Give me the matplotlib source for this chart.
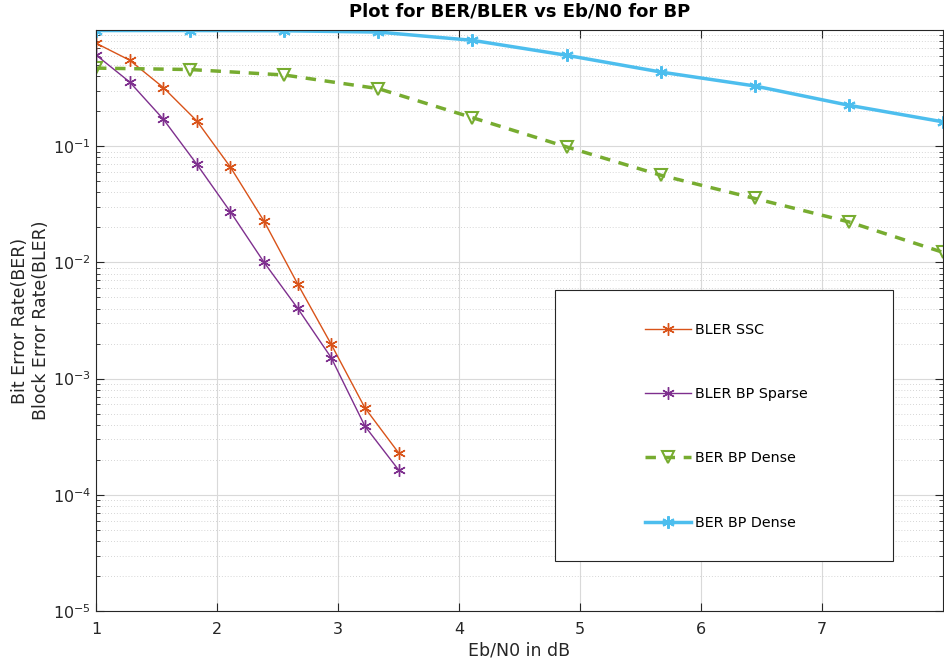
import numpy as np
from matplotlib import pyplot as plt
from matplotlib.patches import Rectangle
from matplotlib.ticker import LogLocator, NullFormatter

# Eb/N0 points (dB)
ebn0_bler = [1.0, 1.278, 1.556, 1.833, 2.111, 2.389, 2.667, 2.944, 3.222, 3.5]
ebn0_ber = [1.0, 1.778, 2.556, 3.333, 4.111, 4.889, 5.667, 6.444, 7.222, 8.0]

bler_ssc = [0.77, 0.55, 0.32, 0.165, 0.066, 0.0226, 0.0065, 0.00197, 5.6e-4, 2.3e-4]
bler_bp_sparse = [0.61, 0.357, 0.171, 0.070, 0.0272, 0.0100, 0.00402, 0.00151, 3.9e-4, 1.64e-4]
ber_bp_dense_1 = [0.47, 0.457, 0.41, 0.313, 0.176, 0.0986, 0.0563, 0.0355, 0.0223, 0.0122]
ber_bp_dense_2 = [0.99, 0.99, 0.985, 0.96, 0.815, 0.606, 0.435, 0.33, 0.225, 0.162]

labels = ["BLER SSC", "BLER BP Sparse", "BER BP Dense", "BER BP Dense"]

ast = (6, 2, 0)
c_org = "#D95319"
c_pur = "#7E2F8E"
c_grn = "#77AC30"
c_cyn = "#4DBEEE"

plt.rcParams['font.family'] = ['DejaVu Sans']
fig = plt.figure(figsize=(9.45, 6.64), dpi=100)
ax = fig.add_axes([0.1016, 0.0798, 0.8964, 0.875])

ax.semilogy(ebn0_bler, bler_ssc, color=c_org, lw=1.0, marker=ast, ms=9, mew=1.0, label=labels[0])
ax.semilogy(ebn0_bler, bler_bp_sparse, color=c_pur, lw=1.0, marker=ast, ms=9, mew=1.0, label=labels[1])
ax.semilogy(ebn0_ber, ber_bp_dense_1, color=c_grn, lw=2.5, ls=(0, (3, 2.5)), marker='v', ms=9,
            mfc='none', mew=1.5, label=labels[2])
ax.semilogy(ebn0_ber, ber_bp_dense_2, color=c_cyn, lw=2.5, marker=ast, ms=9, mew=1.5, label=labels[3])

ax.set_xlim(1, 8)
ax.set_ylim(1e-5, 1)
ax.set_xticks([1, 2, 3, 4, 5, 6, 7])
ax.set_yticks([1e-5, 1e-4, 1e-3, 1e-2, 1e-1])
ax.set_yticklabels([r'$10^{-5}$', r'$10^{-4}$', r'$10^{-3}$', r'$10^{-2}$', r'$10^{-1}$'])
ax.yaxis.set_minor_locator(LogLocator(base=10, subs=np.arange(2, 10), numticks=20))
ax.yaxis.set_minor_formatter(NullFormatter())
ax.tick_params(which='both', direction='in', top=True, right=True, labelsize=11.5, colors='#262626')
ax.tick_params(axis='x', pad=8)
ax.tick_params(which='major', length=6)
ax.tick_params(which='minor', length=3)

ax.grid(True, which='major', color='#d9d9d9', lw=0.8)
ax.grid(True, which='minor', axis='y', color='#c8c8c8', lw=0.6, ls=(0, (1, 2.5)))
for s in ax.spines.values():
    s.set_color('#262626')

ax.set_title("Plot for BER/BLER vs Eb/N0 for BP", fontsize=13, fontweight='bold', pad=10)
ax.set_xlabel("Eb/N0 in dB", fontsize=12.5, color='#262626', labelpad=3)
ax.set_ylabel("Bit Error Rate(BER)\nBlock Error Rate(BLER)", fontsize=12.5, color='#262626', labelpad=2)

# legend box like the MATLAB one
ax.add_patch(Rectangle((0.542, 0.086), 0.399, 0.466, transform=ax.transAxes,
                       facecolor='white', edgecolor='#262626', lw=0.8, zorder=5))
leg = ax.legend(loc='upper left', bbox_to_anchor=(0.641, 0.505), frameon=False,
                fontsize=10.3, handlelength=3.2, labelspacing=3.5, handletextpad=0.3,
                borderaxespad=0)
leg.set_zorder(6)

fig.savefig("out.png", dpi=100)
